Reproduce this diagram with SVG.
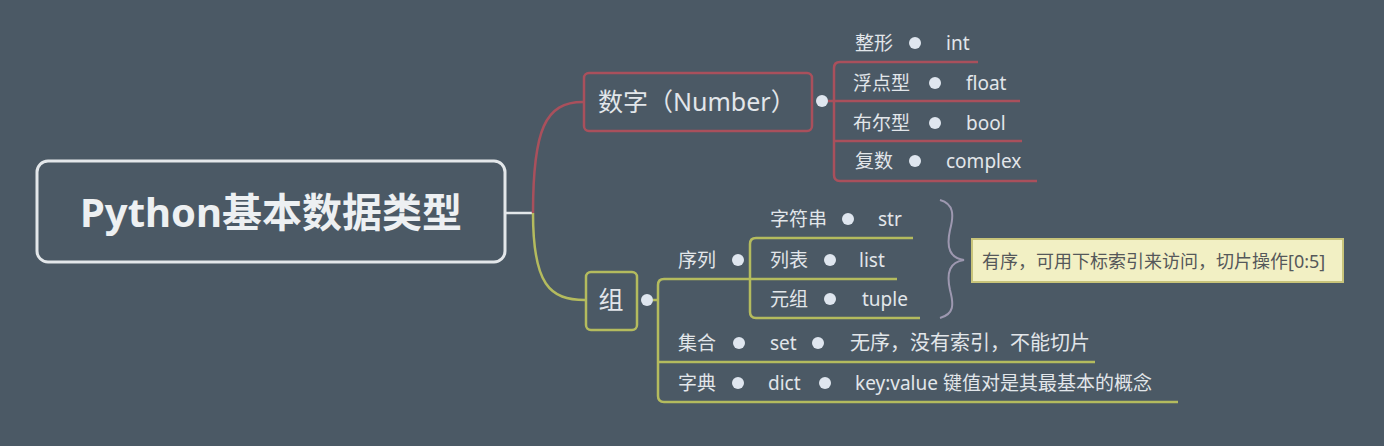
<svg xmlns="http://www.w3.org/2000/svg" width="1384" height="446" viewBox="0 0 1384 446">
<style>
.t{font-family:"Noto Sans","Noto Sans CJK SC",sans-serif;fill:#e2e6ea;font-size:19px}
.red{fill:none;stroke:#a9505c;stroke-width:2.5}
.yel{fill:none;stroke:#b4bb5e;stroke-width:2.5}
.dot{fill:#dfe6ef}
</style>
<rect width="1384" height="446" fill="#4b5965"/>
<g id="connectors">
<path d="M505,213 H533" fill="none" stroke="#e3e7ea" stroke-width="2.5"/>
<path class="red" d="M533,213 C533,130 545,102 583,102"/>
<path class="yel" d="M533,213 C533,285 550,300 585,300"/>
<path class="red" d="M828,101 H834"/>
<path class="red" d="M978,62 H840 Q834,62 834,68 V175 Q834,181 840,181 H1037"/>
<path class="red" d="M834,101 H1020 M834,141 H1022"/>
<path class="yel" d="M653,300 H658"/>
<path class="yel" d="M897,279 H664 Q658,279 658,285 V396 Q658,402 664,402 H1178"/>
<path class="yel" d="M658,362 H1095"/>
<path class="yel" d="M913,238 H756 Q750,238 750,244 V312 Q750,318 756,318 H920"/>
<path d="M940,200 C954,204 954,215 950,230 C946,248 950,258 964,260 C950,262 946,272 950,290 C954,305 954,314 940,318" fill="none" stroke="#9d98b0" stroke-width="2"/>
</g>
<g id="root">
<rect x="37" y="161" width="468" height="101" rx="11" fill="#4b5965" stroke="#e3e7ea" stroke-width="3"/>
<text x="271" y="227" text-anchor="middle" class="t" style="font-size:40px;font-weight:bold;fill:#edf0f2">Python基本数据类型</text>
</g>
<g id="number">
<rect x="584" y="73" width="228" height="58" rx="5" fill="#4b5965" stroke="#a9505c" stroke-width="2.5"/>
<text x="598" y="111" class="t" style="font-size:25px">数字（Number）</text>
<circle class="dot" cx="822" cy="101" r="6"/>
</g>
<g id="int"><text x="855" y="50" class="t">整形</text><circle class="dot" cx="915" cy="43" r="6"/><text x="946" y="50" class="t">int</text></g>
<g id="float"><text x="853" y="90" class="t">浮点型</text><circle class="dot" cx="935" cy="83" r="6"/><text x="966" y="90" class="t">float</text></g>
<g id="bool"><text x="853" y="130" class="t">布尔型</text><circle class="dot" cx="935" cy="123" r="6"/><text x="966" y="130" class="t">bool</text></g>
<g id="complex"><text x="855" y="168" class="t">复数</text><circle class="dot" cx="915" cy="161" r="6"/><text x="946" y="168" class="t">complex</text></g>
<g id="group">
<rect x="586" y="272" width="51" height="58" rx="5" fill="#4b5965" stroke="#b4bb5e" stroke-width="2.5"/>
<text x="611" y="309" text-anchor="middle" class="t" style="font-size:25px">组</text>
<circle class="dot" cx="647" cy="300" r="6"/>
</g>
<g id="seq"><text x="678" y="267" class="t">序列</text><circle class="dot" cx="738" cy="260" r="6"/></g>
<g id="str"><text x="770" y="226" class="t">字符串</text><circle class="dot" cx="848" cy="219" r="6"/><text x="878" y="226" class="t">str</text></g>
<g id="list"><text x="770" y="267" class="t">列表</text><circle class="dot" cx="830" cy="260" r="6"/><text x="859" y="267" class="t">list</text></g>
<g id="tuple"><text x="770" y="306" class="t">元组</text><circle class="dot" cx="830" cy="299" r="6"/><text x="862" y="306" class="t">tuple</text></g>
<g id="note">
<rect x="972" y="239" width="371" height="43" fill="#f2f0c4" stroke="#c8c47a" stroke-width="2"/>
<text x="982" y="268" class="t" style="font-size:18px;fill:#55585a">有序，可用下标索引来访问，切片操作[0:5]</text>
</g>
<g id="set"><text x="678" y="350" class="t">集合</text><circle class="dot" cx="739" cy="343" r="6"/><text x="770" y="350" class="t">set</text><circle class="dot" cx="818" cy="343" r="6"/><text x="850" y="350" class="t" style="font-size:20px">无序，没有索引，不能切片</text></g>
<g id="dict"><text x="678" y="390" class="t">字典</text><circle class="dot" cx="738" cy="383" r="6"/><text x="768" y="390" class="t">dict</text><circle class="dot" cx="825" cy="383" r="6"/><text x="855" y="390" class="t">key:value 键值对是其最基本的概念</text></g>
</svg>
